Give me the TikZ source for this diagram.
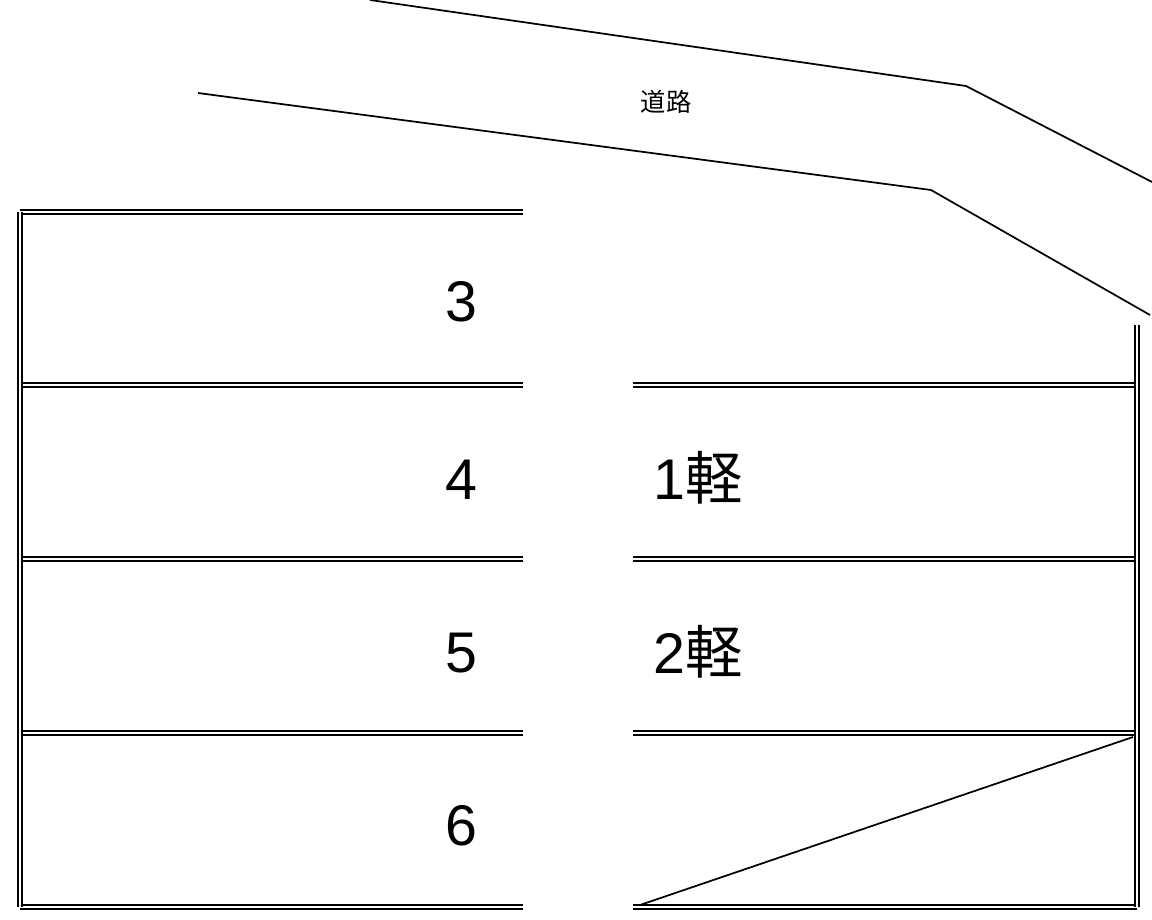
\documentclass[tikz,border=0pt]{standalone}
\usepackage{fontspec}
\setmainfont{Liberation Sans}
\newfontfamily\cjk{Noto Sans CJK JP}
\begin{document}
\begin{tikzpicture}[x=0.75pt,y=-0.75pt,
  dl/.style={double,double distance=1.5pt,line width=1.4pt},
  sl/.style={line width=1.3pt},
  num/.style={font=\fontsize{43}{43}\selectfont,inner sep=0pt}]
\useasboundingbox (0,0) rectangle (1152,920);
% road
\coordinate (r1) at (370,0); \coordinate (r2) at (966,86); \coordinate (r3) at (1152,182);
\coordinate (s1) at (198,93); \coordinate (s2) at (931,190); \coordinate (s3) at (1150,315);
\draw[sl] (r1) -- (r2) -- (r3);
\draw[sl] (s1) -- (s2) -- (s3);
\node[inner sep=0pt,font=\cjk\fontsize{19}{19}\selectfont] (road) at (666,102) {道路};
% left column
\foreach \y in {212,385,559,733,907} \draw[dl] (20,\y) -- (523,\y);
\draw[dl] (20,212) -- (20,907);
% right column
\foreach \y in {385,559,733,907} \draw[dl] (633,\y) -- (1137,\y);
\draw[dl] (1137,325) -- (1137,907);
\coordinate (d1) at (640,905); \coordinate (d2) at (1133,737);
\draw[sl] (d1) -- (d2);
% labels
\node[num] (n3) at (461,302) {3};
\node[num] (n4) at (461,480) {4};
\node[num] (n5) at (461,653) {5};
\node[num] (n6) at (461,826) {6};
\node[num] (n1) at (698,478) {1{\cjk 軽}};
\node[num] (n2) at (698,652) {2{\cjk 軽}};
\end{tikzpicture}
\end{document}
